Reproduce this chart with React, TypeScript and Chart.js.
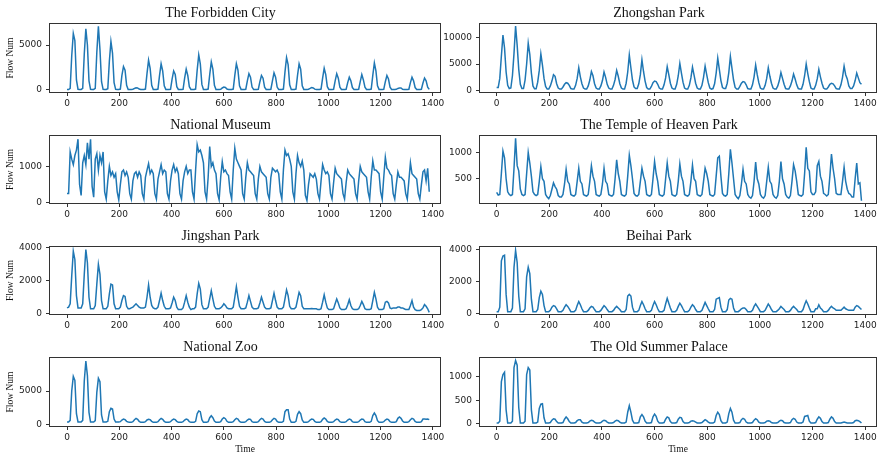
import React, { useEffect, useRef } from "react";
import { Chart, registerables } from "chart.js";

Chart.register(...registerables);

// ---------- data ----------
// Each series: one row per day, values sampled at the day's slot offsets (time steps).
const STEPS_PER_DAY = 48;
const SLOT_OFFSETS = [0, 6, 12, 18, 24, 30, 36, 42];
const X_TICKS = [0, 200, 400, 600, 800, 1000, 1200, 1400];

const forbiddenCity = [
  [30, 30, 150, 3800, 6300, 5500, 1100, 60],
  [40, 40, 150, 4000, 6800, 5000, 1000, 50],
  [40, 40, 150, 4200, 7100, 4500, 900, 50],
  [40, 40, 120, 3200, 5400, 4100, 800, 50],
  [40, 40, 80, 1600, 2600, 2200, 500, 40],
  [30, 30, 60, 150, 220, 200, 80, 30],
  [30, 30, 80, 1800, 3300, 2400, 500, 40],
  [40, 40, 80, 1600, 2900, 2100, 450, 40],
  [40, 40, 60, 1200, 2100, 1700, 350, 40],
  [40, 40, 60, 1300, 2300, 1600, 350, 40],
  [40, 40, 80, 2200, 3900, 2900, 600, 40],
  [40, 40, 80, 1700, 3100, 2300, 500, 40],
  [30, 30, 60, 200, 300, 250, 80, 30],
  [30, 30, 80, 1600, 2900, 2200, 450, 40],
  [40, 40, 60, 1000, 1800, 1400, 300, 40],
  [40, 40, 60, 900, 1600, 1300, 300, 40],
  [40, 40, 60, 1000, 1900, 1400, 300, 40],
  [40, 40, 80, 2000, 3600, 2800, 550, 40],
  [40, 40, 80, 1600, 2900, 2300, 450, 40],
  [30, 30, 60, 150, 250, 200, 70, 30],
  [30, 30, 80, 1300, 2400, 1700, 350, 40],
  [40, 40, 60, 1000, 1800, 1300, 300, 40],
  [40, 40, 60, 800, 1400, 1000, 250, 40],
  [40, 40, 60, 900, 1700, 1100, 300, 40],
  [40, 40, 80, 1600, 3000, 2100, 450, 40],
  [40, 40, 60, 900, 1600, 1200, 300, 40],
  [30, 30, 50, 150, 200, 200, 60, 30],
  [30, 30, 60, 800, 1400, 1000, 250, 40],
  [40, 40, 60, 750, 1300, 1000, 300, 40],
];

const zhongshanPark = [
  [600, 600, 2300, 6500, 10400, 8000, 3500, 1000],
  [400, 500, 2800, 7000, 12100, 8500, 4000, 1200],
  [400, 400, 2000, 5000, 8900, 6800, 3300, 900],
  [350, 350, 1600, 3800, 6900, 4800, 2300, 800],
  [300, 300, 900, 1800, 3000, 2700, 1300, 500],
  [300, 300, 700, 1200, 1500, 1400, 1000, 400],
  [300, 300, 1000, 2300, 4300, 2600, 1300, 500],
  [300, 300, 900, 2000, 3600, 2800, 1300, 500],
  [300, 300, 900, 1900, 3500, 2500, 1200, 500],
  [300, 300, 1000, 2100, 3800, 2700, 1300, 500],
  [300, 300, 1400, 3500, 6700, 4300, 2000, 700],
  [400, 400, 1300, 3000, 5800, 3600, 1800, 600],
  [300, 300, 800, 1500, 1800, 1700, 1200, 500],
  [300, 300, 1100, 2400, 4500, 3000, 1400, 500],
  [300, 300, 1200, 2800, 5100, 3300, 1600, 500],
  [300, 300, 1000, 2400, 4400, 2900, 1400, 500],
  [300, 300, 1000, 2500, 4600, 3000, 1500, 500],
  [300, 400, 1300, 3300, 6100, 4000, 1900, 600],
  [400, 400, 1400, 3400, 6400, 4200, 2000, 600],
  [300, 300, 800, 1400, 1700, 1600, 1100, 400],
  [300, 300, 1100, 2600, 4800, 3000, 1500, 500],
  [300, 300, 1000, 2300, 4300, 2700, 1400, 500],
  [300, 300, 900, 1900, 3400, 2300, 1200, 400],
  [300, 300, 900, 1800, 3100, 2200, 1100, 400],
  [300, 300, 1200, 2800, 5000, 3200, 1700, 500],
  [300, 300, 1000, 2200, 4000, 2600, 1400, 500],
  [300, 300, 700, 1200, 1400, 1300, 900, 400],
  [300, 300, 1100, 2500, 4600, 3000, 2200, 900],
  [400, 400, 900, 1900, 3300, 2400, 1500, 1200],
];

const nationalMuseum = [
  [250, 250, 1400, 1200, 1050, 1300, 1450, 1750],
  [500, 200, 1100, 1300, 1050, 1650, 1200, 1750],
  [450, 150, 1200, 1350, 900, 1300, 1100, 1400],
  [300, 100, 600, 1000, 750, 850, 700, 800],
  [300, 80, 500, 850, 900, 750, 850, 700],
  [250, 100, 600, 800, 850, 700, 850, 750],
  [250, 100, 700, 900, 1080, 800, 900, 800],
  [250, 100, 650, 850, 1050, 800, 900, 850],
  [250, 100, 600, 900, 1050, 850, 950, 800],
  [250, 100, 600, 850, 1000, 800, 900, 900],
  [300, 100, 900, 1600, 1400, 1450, 1300, 1100],
  [300, 100, 700, 1550, 1000, 1100, 900, 800],
  [250, 80, 700, 1130, 850, 900, 800, 750],
  [300, 100, 900, 1500, 1200, 1100, 1000, 900],
  [250, 100, 700, 1100, 900, 850, 800, 750],
  [250, 100, 650, 1000, 850, 800, 750, 700],
  [250, 100, 700, 950, 900, 850, 900, 800],
  [300, 100, 900, 1450, 1300, 1350, 1200, 1000],
  [300, 100, 800, 1300, 1100, 1000, 1150, 900],
  [200, 60, 500, 800, 750, 700, 800, 650],
  [250, 100, 600, 1050, 900, 800, 850, 750],
  [250, 100, 550, 950, 800, 750, 700, 650],
  [250, 100, 550, 900, 800, 750, 700, 650],
  [250, 100, 600, 1000, 850, 800, 750, 700],
  [300, 100, 700, 1150, 900, 900, 850, 800],
  [300, 100, 700, 1250, 950, 900, 800, 750],
  [250, 100, 500, 850, 700, 700, 650, 600],
  [250, 100, 600, 1100, 800, 750, 700, 650],
  [250, 100, 500, 850, 900, 600, 950, 300],
];

const templeOfHeaven = [
  [240, 190, 200, 600, 1030, 900, 500, 250],
  [200, 180, 200, 700, 1270, 750, 650, 300],
  [200, 180, 200, 600, 1000, 800, 550, 250],
  [200, 180, 200, 450, 730, 500, 450, 200],
  [150, 120, 180, 300, 420, 350, 300, 180],
  [150, 150, 200, 400, 680, 450, 400, 200],
  [180, 170, 200, 450, 700, 450, 400, 200],
  [180, 170, 200, 450, 750, 550, 450, 200],
  [180, 170, 200, 400, 700, 450, 400, 200],
  [180, 170, 200, 500, 860, 600, 450, 200],
  [180, 170, 200, 550, 950, 750, 500, 220],
  [180, 170, 200, 450, 700, 550, 450, 200],
  [180, 170, 200, 500, 830, 600, 450, 200],
  [180, 170, 200, 500, 800, 550, 450, 200],
  [180, 170, 200, 450, 780, 550, 450, 200],
  [180, 170, 200, 450, 760, 500, 450, 200],
  [180, 170, 200, 450, 700, 600, 450, 200],
  [180, 170, 200, 550, 900, 930, 550, 220],
  [180, 170, 200, 600, 1060, 800, 500, 200],
  [150, 120, 180, 400, 680, 450, 400, 200],
  [150, 130, 180, 450, 820, 500, 400, 200],
  [150, 130, 180, 450, 720, 450, 400, 200],
  [150, 130, 180, 450, 830, 500, 400, 200],
  [150, 130, 180, 450, 770, 650, 450, 200],
  [180, 170, 200, 600, 1100, 700, 650, 250],
  [200, 200, 250, 750, 830, 550, 450, 220],
  [200, 170, 200, 550, 970, 700, 500, 220],
  [200, 200, 200, 450, 720, 450, 300, 220],
  [200, 150, 150, 500, 800, 400, 420, 80],
];

const jingshanPark = [
  [350, 400, 600, 2300, 3800, 3300, 1100, 350],
  [350, 350, 600, 2400, 3900, 3100, 1000, 300],
  [300, 300, 500, 1800, 3000, 2400, 800, 300],
  [300, 300, 450, 1200, 1800, 1750, 600, 300],
  [300, 300, 400, 800, 1100, 1050, 450, 300],
  [300, 350, 400, 500, 600, 500, 400, 350],
  [350, 350, 400, 1000, 1750, 1000, 500, 350],
  [300, 300, 400, 800, 1250, 800, 450, 300],
  [300, 300, 350, 650, 1000, 800, 400, 250],
  [250, 250, 350, 700, 1100, 700, 400, 250],
  [300, 300, 400, 1200, 1850, 1500, 550, 300],
  [300, 300, 400, 900, 1400, 900, 450, 300],
  [300, 300, 350, 450, 600, 500, 350, 300],
  [300, 300, 400, 1000, 1650, 1000, 450, 300],
  [300, 300, 350, 700, 1100, 750, 400, 300],
  [300, 300, 350, 650, 1000, 700, 400, 300],
  [300, 300, 350, 800, 1250, 800, 400, 300],
  [300, 300, 400, 900, 1450, 1100, 450, 300],
  [300, 300, 400, 850, 1300, 1100, 450, 300],
  [300, 300, 300, 300, 320, 300, 300, 300],
  [250, 250, 300, 700, 1150, 700, 350, 250],
  [250, 250, 300, 600, 900, 650, 350, 250],
  [250, 250, 300, 550, 850, 500, 300, 250],
  [250, 250, 300, 500, 750, 550, 300, 250],
  [250, 250, 300, 800, 1300, 900, 400, 250],
  [250, 250, 300, 700, 750, 650, 350, 300],
  [350, 350, 350, 400, 400, 350, 350, 300],
  [250, 250, 250, 500, 800, 400, 250, 200],
  [200, 200, 250, 350, 550, 450, 300, 80],
];

const beihaiPark = [
  [120, 120, 400, 3300, 3600, 3650, 1200, 120],
  [120, 120, 350, 2900, 3950, 3200, 1100, 120],
  [120, 120, 300, 2300, 2900, 2500, 900, 120],
  [120, 120, 250, 1000, 1400, 1200, 500, 120],
  [120, 120, 200, 400, 500, 450, 300, 120],
  [120, 120, 200, 400, 550, 450, 300, 120],
  [120, 120, 200, 500, 750, 550, 300, 120],
  [120, 120, 200, 350, 450, 400, 250, 120],
  [120, 120, 200, 350, 500, 400, 250, 120],
  [120, 120, 200, 350, 450, 350, 250, 120],
  [120, 120, 250, 1100, 1200, 1100, 400, 120],
  [120, 120, 200, 500, 750, 550, 300, 120],
  [120, 120, 200, 500, 750, 550, 300, 120],
  [120, 120, 200, 600, 950, 650, 350, 120],
  [120, 120, 200, 450, 650, 500, 300, 120],
  [120, 120, 200, 400, 550, 450, 250, 120],
  [120, 120, 200, 450, 700, 500, 300, 120],
  [120, 120, 250, 900, 950, 1000, 400, 120],
  [120, 120, 250, 850, 950, 900, 350, 120],
  [120, 120, 200, 300, 350, 350, 250, 120],
  [120, 120, 200, 450, 600, 450, 300, 120],
  [120, 120, 200, 400, 600, 450, 250, 120],
  [120, 120, 200, 300, 450, 350, 250, 120],
  [120, 120, 200, 350, 450, 350, 250, 120],
  [120, 120, 250, 550, 800, 600, 350, 120],
  [120, 120, 300, 300, 550, 350, 250, 120],
  [120, 120, 200, 350, 450, 350, 300, 200],
  [200, 200, 200, 300, 400, 300, 250, 200],
  [200, 200, 200, 400, 500, 450, 350, 250],
];

const nationalZoo = [
  [350, 350, 600, 5000, 7200, 6600, 1600, 350],
  [350, 350, 600, 6500, 9500, 7300, 1800, 350],
  [350, 350, 550, 4800, 6900, 6400, 1400, 350],
  [350, 350, 450, 1900, 2400, 2300, 800, 350],
  [350, 350, 400, 650, 800, 700, 450, 350],
  [300, 300, 400, 700, 900, 750, 450, 300],
  [300, 300, 400, 650, 750, 700, 450, 300],
  [300, 300, 400, 700, 900, 750, 450, 300],
  [300, 300, 400, 650, 800, 700, 450, 300],
  [300, 300, 400, 650, 800, 700, 400, 300],
  [300, 300, 450, 1600, 2000, 1900, 700, 300],
  [300, 300, 400, 1000, 1300, 1000, 500, 300],
  [300, 300, 400, 800, 1000, 850, 450, 300],
  [300, 300, 400, 700, 900, 800, 450, 300],
  [300, 300, 400, 650, 800, 750, 400, 300],
  [300, 300, 400, 700, 900, 800, 450, 300],
  [300, 300, 400, 700, 900, 800, 450, 300],
  [300, 300, 450, 1900, 2200, 2200, 800, 300],
  [300, 300, 450, 1500, 1900, 1600, 650, 300],
  [300, 300, 400, 650, 800, 750, 450, 300],
  [300, 300, 400, 750, 950, 800, 450, 300],
  [300, 300, 400, 650, 800, 700, 400, 300],
  [300, 300, 400, 650, 800, 700, 400, 300],
  [300, 300, 400, 650, 800, 750, 400, 300],
  [300, 300, 450, 1300, 1700, 1300, 550, 300],
  [300, 300, 400, 650, 800, 700, 400, 300],
  [300, 300, 400, 900, 1100, 900, 500, 300],
  [300, 300, 400, 700, 900, 800, 450, 300],
  [300, 300, 400, 800, 800, 750, 800, 700],
];

const oldSummerPalace = [
  [20, 20, 60, 900, 1050, 1100, 300, 20],
  [20, 20, 60, 1200, 1350, 1250, 350, 20],
  [20, 20, 60, 1050, 1200, 1150, 300, 20],
  [20, 20, 40, 330, 420, 430, 130, 20],
  [20, 20, 30, 80, 110, 100, 50, 20],
  [20, 20, 30, 100, 150, 110, 50, 20],
  [20, 20, 30, 70, 90, 90, 40, 20],
  [20, 20, 30, 60, 80, 70, 40, 20],
  [20, 20, 30, 60, 80, 70, 40, 20],
  [20, 20, 30, 60, 80, 70, 40, 20],
  [20, 20, 40, 250, 390, 250, 80, 20],
  [20, 20, 30, 150, 200, 150, 60, 20],
  [20, 20, 30, 150, 210, 160, 60, 20],
  [20, 20, 30, 100, 150, 130, 50, 20],
  [20, 20, 30, 100, 140, 130, 50, 20],
  [20, 20, 30, 60, 70, 60, 40, 20],
  [20, 20, 30, 60, 90, 70, 40, 20],
  [20, 20, 40, 180, 250, 200, 70, 20],
  [20, 20, 40, 220, 330, 250, 80, 20],
  [20, 20, 30, 90, 120, 100, 40, 20],
  [20, 20, 30, 80, 110, 90, 40, 20],
  [20, 20, 30, 60, 70, 60, 30, 20],
  [20, 20, 30, 60, 80, 70, 30, 20],
  [20, 20, 30, 90, 120, 100, 40, 20],
  [20, 20, 40, 160, 170, 180, 60, 20],
  [20, 20, 30, 100, 150, 120, 50, 20],
  [20, 20, 30, 100, 150, 120, 50, 20],
  [20, 20, 20, 30, 40, 30, 20, 20],
  [20, 20, 30, 70, 80, 70, 50, 20],
];

const forbiddenCityTicks = [0, 5000];
const zhongshanTicks = [0, 5000, 10000];
const museumTicks = [0, 1000];
const templeTicks = [500, 1000];
const jingshanTicks = [0, 2000, 4000];
const beihaiTicks = [0, 2000, 4000];
const zooTicks = [0, 5000];
const summerPalaceTicks = [0, 500, 1000];

// ---------- layout ----------
const COLS = [
  { left: 0, width: 446, axisW: 49, padRight: 5, xMin: -69, xMax: 1431 },
  { left: 441, width: 438, axisW: 38, padRight: 2, xMin: -67, xMax: 1445 },
];
const ROWS = [
  { top: 0, areaH: 70, xAxisH: 19 },
  { top: 112, areaH: 69, xAxisH: 19 },
  { top: 223, areaH: 69, xAxisH: 19 },
  { top: 334, areaH: 70, xAxisH: 31 },
];
const TITLE_H = 23;

const PANELS = [
  { title: "The Forbidden City", values: forbiddenCity, ticks: forbiddenCityTicks, yMin: -360, yMax: 7460, col: 0, row: 0 },
  { title: "Zhongshan Park", values: zhongshanPark, ticks: zhongshanTicks, yMin: -430, yMax: 12680, col: 1, row: 0 },
  { title: "National Museum", values: nationalMuseum, ticks: museumTicks, yMin: -36, yMax: 1866, col: 0, row: 1 },
  { title: "The Temple of Heaven Park", values: templeOfHeaven, ticks: templeTicks, yMin: 18, yMax: 1335, col: 1, row: 1 },
  { title: "Jingshan Park", values: jingshanPark, ticks: jingshanTicks, yMin: -80, yMax: 4120, col: 0, row: 2 },
  { title: "Beihai Park", values: beihaiPark, ticks: beihaiTicks, yMin: -90, yMax: 4230, col: 1, row: 2 },
  { title: "National Zoo", values: nationalZoo, ticks: zooTicks, yMin: -400, yMax: 10100, col: 0, row: 3 },
  { title: "The Old Summer Palace", values: oldSummerPalace, ticks: summerPalaceTicks, yMin: -65, yMax: 1425, col: 1, row: 3 },
];

const framePlugin = {
  id: "frame",
  afterDatasetsDraw(chart: any) {
    const { ctx, chartArea } = chart;
    const { left, top, right, bottom } = chartArea;
    ctx.save();
    ctx.strokeStyle = "#333";
    ctx.lineWidth = 1;
    ctx.strokeRect(left + 0.5, top + 0.5, right - left - 1, bottom - top - 1);
    ctx.restore();
  },
};

function Panel({ panel }: { panel: (typeof PANELS)[number] }) {
  const ref = useRef<HTMLCanvasElement | null>(null);
  const col = COLS[panel.col];
  const row = ROWS[panel.row];
  const height = TITLE_H + row.areaH + row.xAxisH;
  const isBottom = panel.row === ROWS.length - 1;

  useEffect(() => {
    if (!ref.current) return;
    const points = panel.values.flatMap((day, d) =>
      day.map((v, s) => ({ x: d * STEPS_PER_DAY + SLOT_OFFSETS[s], y: v }))
    );
    const chart = new Chart(ref.current, {
      type: "line",
      data: {
        datasets: [
          {
            data: points,
            borderColor: "#1f77b4",
            borderWidth: 1.5,
            pointRadius: 0,
            tension: 0,
            fill: false,
          },
        ],
      },
      options: {
        animation: false,
        responsive: false,
        devicePixelRatio: 1,
        layout: { padding: { left: 0, top: 0, right: col.padRight, bottom: 0 } },
        plugins: {
          legend: { display: false },
          tooltip: { enabled: false },
          title: {
            display: true,
            text: panel.title,
            color: "#111",
            font: { family: "'Liberation Serif', 'Times New Roman', serif", size: 14, weight: "normal", lineHeight: "20px" },
            padding: { top: 3, bottom: 0 },
          },
        },
        scales: {
          x: {
            type: "linear",
            min: col.xMin,
            max: col.xMax,
            afterBuildTicks: (s: any) => {
              s.ticks = X_TICKS.map((v) => ({ value: v }));
            },
            afterFit: (s: any) => {
              s.height = row.xAxisH;
              s.paddingLeft = 0;
              s.paddingRight = 0;
            },
            grid: { drawOnChartArea: false, drawTicks: true, tickLength: 3, tickColor: "#333", tickWidth: 1 },
            border: { display: false },
            ticks: {
              autoSkip: false,
              maxRotation: 0,
              padding: 2,
              color: "#222",
              font: { family: "'DejaVu Sans', sans-serif", size: 9 },
              callback: (v: any) => String(v),
            },
            title: {
              display: isBottom,
              text: "Time",
              color: "#111",
              font: { family: "'Liberation Serif', 'Times New Roman', serif", size: 9.5, lineHeight: "12px" },
              padding: { top: 0, bottom: 3 },
            },
          },
          y: {
            type: "linear",
            min: panel.yMin,
            max: panel.yMax,
            afterBuildTicks: (s: any) => {
              s.ticks = panel.ticks.map((v) => ({ value: v }));
            },
            afterFit: (s: any) => {
              s.width = col.axisW;
              s.paddingTop = 0;
              s.paddingBottom = 0;
            },
            grid: { drawOnChartArea: false, drawTicks: true, tickLength: 3, tickColor: "#333", tickWidth: 1 },
            border: { display: false },
            ticks: {
              padding: 4,
              color: "#222",
              font: { family: "'DejaVu Sans', sans-serif", size: 9 },
              callback: (v: any) => String(v),
            },
            title: {
              display: panel.col === 0,
              text: "Flow Num",
              color: "#111",
              font: { family: "'Liberation Serif', 'Times New Roman', serif", size: 9.5, lineHeight: "12px" },
              padding: { top: 4, bottom: 0 },
            },
          },
        },
      },
      plugins: [framePlugin],
    });
    return () => chart.destroy();
  }, [panel]);

  return (
    <canvas
      ref={ref}
      width={col.width}
      height={height}
      style={{ position: "absolute", left: col.left, top: row.top, width: col.width, height }}
    />
  );
}

export default function App() {
  return (
    <div style={{ position: "fixed", left: 0, top: 0, width: 879, height: 458, background: "#fff", overflow: "hidden" }}>
      {PANELS.map((p) => (
        <Panel key={p.title} panel={p} />
      ))}
    </div>
  );
}
